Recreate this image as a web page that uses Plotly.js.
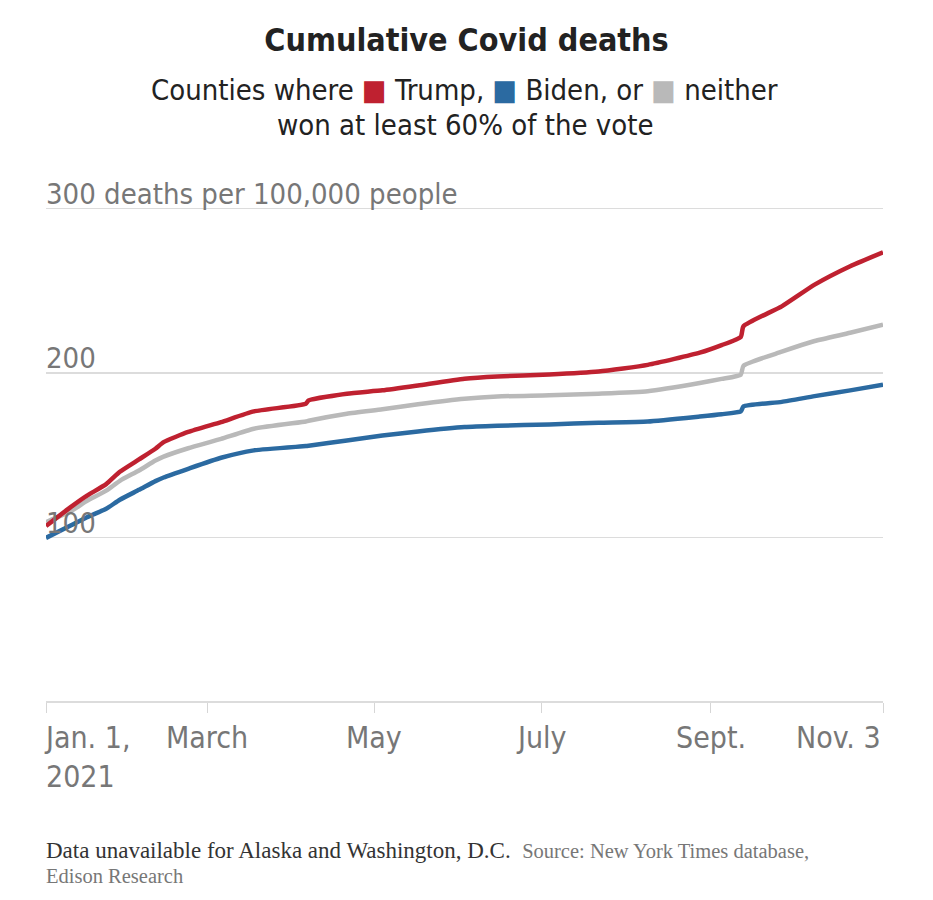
<!DOCTYPE html>
<html>
<head>
<meta charset="utf-8">
<script src="https://cdn.plot.ly/plotly-3.0.1.min.js"></script>
<style>
  body { margin: 0; background: #fff; }
  #chart { width: 933px; height: 900px; }
</style>
</head>
<body>
<div id="chart"></div>
<script>
// values, deaths per 100,000 people
let dates = ['2021-01-01', '2021-01-10', '2021-01-16', '2021-01-23', '2021-01-28', '2021-02-04',
    '2021-02-10', '2021-02-13', '2021-02-22', '2021-03-06', '2021-03-18', '2021-04-06',
    '2021-04-07', '2021-04-21', '2021-05-04', '2021-05-17', '2021-06-03', '2021-06-15',
    '2021-07-04', '2021-07-22', '2021-08-09', '2021-08-28', '2021-09-05', '2021-09-12',
    '2021-09-13', '2021-09-27', '2021-10-09', '2021-10-22', '2021-11-03'];
let trump = [107, 118.5, 125.5, 132.5, 140, 147.5, 154, 158, 164.2, 170.2, 176.7, 181.4,
    183.4, 187.5, 189.5, 192.5, 196.6, 198, 199.2, 201, 205, 212.4, 217, 222,
    228.5, 240.6, 253.8, 265, 273.5];
let biden = [99.8, 107.3, 112.4, 117.5, 123, 129, 134.3, 136.5, 141.8, 148.5, 153, 155.6,
    155.8, 159, 162, 164.5, 167.2, 168, 168.8, 169.8, 170.6, 173.6, 175, 176.7,
    179.7, 182.5, 186, 189.5, 193];
let neither = [109.4, 116, 122.3, 128.5, 134.5, 140.8, 146.8, 149.2, 154.3, 160, 166.2, 170.6,
    171, 175.3, 178, 181, 184.4, 185.8, 186.5, 187.5, 189, 194, 196.5, 199,
    204.5, 213, 219.5, 224.5, 229.5];

let yTicks = [100, 200, 300];
let yTickText = ['100', '200', '300 deaths per 100,000 people'];
let xTickDates = ['2021-01-01', '2021-03-01', '2021-05-01', '2021-07-01', '2021-09-01', '2021-11-03'];
let xTickText = ['Jan. 1,<br>2021', 'March', 'May', 'July', 'Sept.', 'Nov. 3'];

let RED = '#bf2130';
let BLUE = '#2b6aa1';
let GRAY = '#b9b9b9';

let narrow = 'Liberation Sans Narrow, DejaVu Sans Condensed, Arial Narrow, sans-serif';
let serif = 'Liberation Serif, DejaVu Serif, Georgia, serif';

// plot area in pixels: top 207, bottom 702
function py(px) {
    return (702 - px) / 495;
}

function line(y, color) {
    return {
        x: dates,
        y: y,
        type: 'scatter',
        mode: 'lines',
        line: { color: color, width: 4.5, shape: 'spline', smoothing: 0.5 },
        hoverinfo: 'skip'
    };
}

var data = [line(biden, BLUE), line(neither, GRAY), line(trump, RED)];

var annotations = [
    {
        text: 'Counties where <span style="color:' + RED + '">■</span> Trump, ' +
            '<span style="color:' + BLUE + '">■</span> Biden, or ' +
            '<span style="color:' + GRAY + '">■</span> neither',
        xref: 'paper', yref: 'paper', x: 0.5, y: py(90),
        xanchor: 'center', yanchor: 'middle', showarrow: false,
        font: { family: narrow, size: 29, color: '#222' }
    },
    {
        text: 'won at least 60% of the vote',
        xref: 'paper', yref: 'paper', x: 0.5, y: py(125),
        xanchor: 'center', yanchor: 'middle', showarrow: false,
        font: { family: narrow, size: 29, color: '#222' }
    },
    {
        text: 'Data unavailable for Alaska and Washington, D.C.  ' +
            '<span style="font-size:20.5px;color:#777">Source: New York Times database,</span>',
        xref: 'paper', yref: 'paper', x: 0, y: py(850), xshift: -2,
        xanchor: 'left', yanchor: 'middle', align: 'left', showarrow: false,
        font: { family: serif, size: 23, color: '#333' }
    },
    {
        text: 'Edison Research',
        xref: 'paper', yref: 'paper', x: 0, y: py(876), xshift: -2,
        xanchor: 'left', yanchor: 'middle', align: 'left', showarrow: false,
        font: { family: serif, size: 20.5, color: '#777' }
    }
];

// y labels sit just above their gridlines, at the left edge
yTicks.forEach(function (v, i) {
    annotations.push({
        text: yTickText[i],
        xref: 'paper', yref: 'y', x: 0, y: v, xshift: -2, yshift: -4,
        xanchor: 'left', yanchor: 'bottom', showarrow: false,
        font: { family: narrow, size: 29, color: '#777' }
    });
});

xTickDates.forEach(function (d, i) {
    let anchor = 'center';
    let shift = 0;
    if (i === 0) { anchor = 'left'; shift = -4; }
    if (i === xTickDates.length - 1) anchor = 'right';
    annotations.push({
        text: xTickText[i],
        xref: 'x', yref: 'paper', x: d, y: py(718), xshift: shift,
        xanchor: anchor, yanchor: 'top', align: 'left', showarrow: false,
        font: { family: narrow, size: 30, color: '#777' }
    });
});

var layout = {
    width: 933,
    height: 900,
    paper_bgcolor: '#fff',
    plot_bgcolor: '#fff',
    showlegend: false,
    margin: { l: 46, r: 50, t: 207, b: 198 },
    title: {
        text: '<b>Cumulative Covid deaths</b>',
        x: 0.5, xanchor: 'center',
        y: 1 - 40 / 900, yref: 'container', yanchor: 'middle',
        font: { family: narrow, size: 32, color: '#222' }
    },
    xaxis: {
        type: 'date',
        range: ['2021-01-01', '2021-11-03'],
        tickvals: xTickDates,
        showticklabels: false,
        ticks: 'outside',
        ticklen: 10,
        tickcolor: '#d6d6d6',
        tickwidth: 1,
        showgrid: false,
        zeroline: false,
        showline: false
    },
    yaxis: {
        range: [0, 301],
        tickvals: [0].concat(yTicks),
        showticklabels: false,
        ticks: '',
        showgrid: true,
        gridcolor: '#dcdcdc',
        gridwidth: 1.5,
        zeroline: true,
        zerolinecolor: '#dcdcdc',
        zerolinewidth: 1.5,
        showline: false
    },
    annotations: annotations
};

Plotly.newPlot('chart', data, layout, { displayModeBar: false, staticPlot: true });
</script>
</body>
</html>
